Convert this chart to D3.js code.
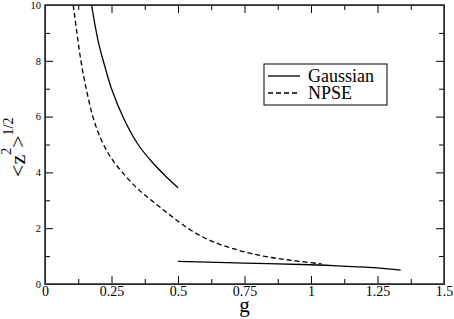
<!DOCTYPE html>
<html>
<head>
<meta charset="utf-8">
<script src="https://cdn.jsdelivr.net/npm/d3@7"></script>
<style>
  body { margin: 0; background: #fff; }
  svg { display: block; }
  .axis path, .axis line { stroke: #000; }
  .axis text { font-family: "Liberation Serif", "Times New Roman", "DejaVu Serif", serif; fill: #000; }
  .serif { font-family: "Liberation Serif", "Times New Roman", "DejaVu Serif", serif; }
</style>
</head>
<body>
<div class="svg-container"></div>
<script>
// values (g, <z^2>^1/2)
var gaussUpper = [
  [0.175, 10], [0.2, 8.7], [0.225, 7.8], [0.25, 7.0], [0.3, 5.85],
  [0.35, 5.0], [0.4, 4.4], [0.45, 3.9], [0.5, 3.45]
];
var gaussLower = [
  [0.5, 0.81], [0.75, 0.75], [1.0, 0.69], [1.1, 0.65], [1.25, 0.58], [1.337, 0.5]
];
var npse = [
  [0.106, 10], [0.12, 9], [0.135, 8], [0.155, 7], [0.18, 6], [0.21, 5.2],
  [0.25, 4.5], [0.3, 3.9], [0.35, 3.4], [0.4, 3.0], [0.45, 2.62], [0.5, 2.25],
  [0.55, 1.92], [0.6, 1.65], [0.65, 1.45], [0.7, 1.29], [0.75, 1.15],
  [0.8, 1.04], [0.85, 0.95], [0.9, 0.88], [0.95, 0.82], [1.04, 0.72]
];
var xTicks = [0, 0.25, 0.5, 0.75, 1, 1.25, 1.5];
var xTickLabels = ["0", "0.25", "0.5", "0.75", "1", "1.25", "1.5"];
var xMinor = [0.125, 0.375, 0.625, 0.875, 1.125, 1.375];
var yTicks = [0, 2, 4, 6, 8, 10];
var yMinor = [1, 3, 5, 7, 9];
var legendNames = ["Gaussian", "NPSE"];

var margin = {top: 5, right: 10, bottom: 35, left: 45},
    width = 454 - margin.left - margin.right,
    height = 319 - margin.top - margin.bottom;

var svg = d3.select(".svg-container").append("svg")
    .attr("width", 454)
    .attr("height", 319);

var g = svg.append("g")
    .attr("transform", "translate(" + margin.left + "," + margin.top + ")");

var xScale = d3.scaleLinear().domain([0, 1.5]).range([0, width]),
    yScale = d3.scaleLinear().domain([0, 10]).range([height, 0]);

var line = d3.line()
    .curve(d3.curveCatmullRom)
    .x(function (d) { return xScale(d[0]); })
    .y(function (d) { return yScale(d[1]); });

// curves
g.append("path").attr("d", line(gaussUpper))
    .attr("fill", "none").attr("stroke", "#000").attr("stroke-width", 1.3);
g.append("path").attr("d", line(gaussLower))
    .attr("fill", "none").attr("stroke", "#000").attr("stroke-width", 1.3);
g.append("path").attr("d", line(npse))
    .attr("fill", "none").attr("stroke", "#000").attr("stroke-width", 1.3)
    .attr("stroke-dasharray", "5,3");

// axes, ticks pointing inward on all four sides
function labelX(d) { return xTickLabels[xTicks.indexOf(d)]; }

g.append("g").attr("class", "axis")
    .attr("transform", "translate(0," + height + ")")
    .call(d3.axisBottom(xScale).tickValues(xTicks).tickSize(-8).tickSizeOuter(0)
        .tickPadding(2).tickFormat(labelX))
    .selectAll("text").attr("font-size", "14px").attr("dy", "0.71em");
g.append("g").attr("class", "axis")
    .attr("transform", "translate(0," + height + ")")
    .call(d3.axisBottom(xScale).tickValues(xMinor).tickSize(-5).tickSizeOuter(0).tickFormat(""));

g.append("g").attr("class", "axis")
    .call(d3.axisTop(xScale).tickValues(xTicks).tickSize(-8).tickSizeOuter(0).tickFormat(""));
g.append("g").attr("class", "axis")
    .call(d3.axisTop(xScale).tickValues(xMinor).tickSize(-5).tickSizeOuter(0).tickFormat(""));

g.append("g").attr("class", "axis")
    .call(d3.axisLeft(yScale).tickValues(yTicks).tickSize(-8).tickSizeOuter(0)
        .tickPadding(4).tickFormat(d3.format("d")))
    .selectAll("text").attr("font-size", "10.5px");
g.append("g").attr("class", "axis")
    .call(d3.axisLeft(yScale).tickValues(yMinor).tickSize(-5).tickSizeOuter(0).tickFormat(""));

g.append("g").attr("class", "axis")
    .attr("transform", "translate(" + width + ",0)")
    .call(d3.axisRight(yScale).tickValues(yTicks).tickSize(-8).tickSizeOuter(0).tickFormat(""));
g.append("g").attr("class", "axis")
    .attr("transform", "translate(" + width + ",0)")
    .call(d3.axisRight(yScale).tickValues(yMinor).tickSize(-5).tickSizeOuter(0).tickFormat(""));

// frame
g.append("rect")
    .attr("width", width).attr("height", height)
    .attr("fill", "none").attr("stroke", "#333").attr("stroke-width", 1.6);

// axis titles
svg.append("text")
    .attr("class", "serif")
    .attr("x", margin.left + xScale(0.75))
    .attr("y", 312)
    .attr("text-anchor", "middle")
    .style("font-size", "21px")
    .text("g");

var ylab = svg.append("text")
    .attr("class", "serif")
    .attr("transform", "translate(25,177) rotate(-90)")
    .style("font-size", "22px");
ylab.append("tspan").text("<z");
ylab.append("tspan").attr("dy", -14).style("font-size", "14px").text("2");
ylab.append("tspan").attr("dy", 14).text(">");
ylab.append("tspan").attr("dy", -12).style("font-size", "14px").text("1/2");

// legend
var legend = svg.append("g");
legend.append("rect")
    .attr("x", 264).attr("y", 64).attr("width", 123).attr("height", 41)
    .attr("fill", "#fff").attr("stroke", "#000").attr("stroke-width", 1);
legendNames.forEach(function (name, i) {
    var yy = 76 + i * 17;
    legend.append("line")
        .attr("x1", 268).attr("x2", 300).attr("y1", yy).attr("y2", yy)
        .attr("stroke", "#000").attr("stroke-width", 1.3)
        .attr("stroke-dasharray", i === 1 ? "5,3" : null);
    legend.append("text")
        .attr("class", "serif")
        .attr("x", 308).attr("y", yy + 6)
        .style("font-size", "18px")
        .text(name);
});
</script>
</body>
</html>
